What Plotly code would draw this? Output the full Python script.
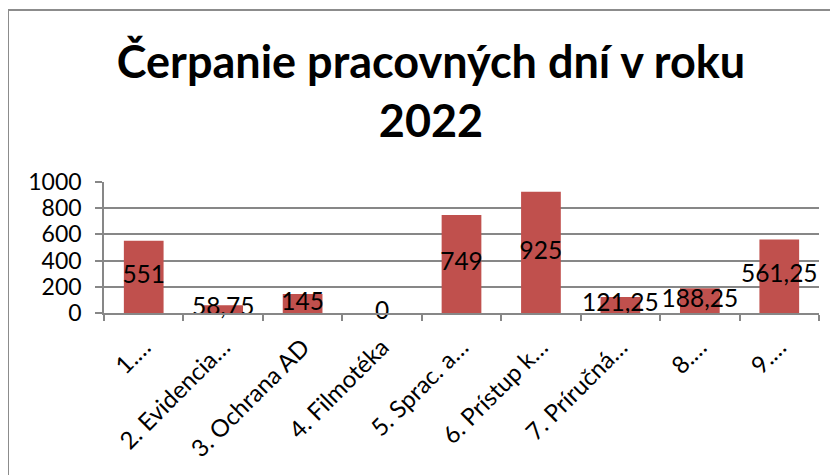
import plotly.graph_objects as go

categories = ["1.…", "2. Evidencia…", "3. Ochrana AD", "4. Filmotéka", "5. Sprac. a…",
              "6. Prístup k…", "7. Príručná…", "8.…", "9.…"]
values = [551, 58.75, 145, 0, 749, 925, 121.25, 188.25, 561.25]
labels = ["551", "58,75", "145", "0", "749", "925", "121,25", "188,25", "561,25"]
y_ticks = [0, 200, 400, 600, 800, 1000]
title_text = "Čerpanie pracovných dní v roku<br>2022"

OFF = 8  # page body margin
W, H = 838 - OFF, 475 - OFF
# desired plot area in page pixels: x 104..819, y 182..313
L, R, T, B = 104 - OFF, 838 - 819, 182 - OFF, 475 - 313
GRID = "#878787"
FONT = "Lato"

fig = go.Figure()
fig.add_trace(go.Bar(x=categories, y=values, marker_color="#C0504D",
                     marker_line_width=0, hoverinfo="skip"))
fig.add_trace(go.Scatter(x=categories, y=[v / 2 for v in values], mode="text",
                         text=labels, textposition="middle center",
                         textfont=dict(family=FONT, size=24.5, color="black"),
                         cliponaxis=False, hoverinfo="skip"))

pw = W - L - R
ph = H - T - B
# chart border (left and top edges visible), page pixels x=8, y=10
bx = (8 - OFF - L) / pw
by = (H - B - (10 - OFF)) / ph
fig.add_shape(type="line", xref="paper", yref="paper", x0=bx, x1=bx, y0=by, y1=-5,
              line=dict(color="#8C8C8C", width=2))
fig.add_shape(type="line", xref="paper", yref="paper", x0=bx, x1=5, y0=by, y1=by,
              line=dict(color="#8C8C8C", width=2))

fig.update_layout(
    width=W, height=H,
    margin=dict(l=L, r=R, t=T, b=B, autoexpand=False),
    paper_bgcolor="white", plot_bgcolor="white",
    showlegend=False, bargap=0.5,
    title=dict(text="<b>" + title_text + "</b>", x=(431 - OFF) / W, xanchor="center",
               y=1 - (78 - OFF) / H, yanchor="middle",
               font=dict(family=FONT, size=45, color="black")),
    font=dict(family=FONT, color="black"),
)
fig.update_yaxes(range=[0, 1000], tickvals=y_ticks, showgrid=True, gridcolor=GRID,
                 gridwidth=1.5, showline=True, linecolor=GRID, linewidth=1.5,
                 ticks="outside", ticklen=7, tickcolor=GRID, tickwidth=1.5,
                 ticklabelstandoff=9,
                 tickfont=dict(family=FONT, size=23, color="black"), zeroline=False)
fig.update_xaxes(type="category", showline=True, linecolor=GRID, linewidth=1.5,
                 ticks="outside", tickson="boundaries", ticklen=6, tickcolor=GRID,
                 tickwidth=1.5, tickangle=-45, ticklabelstandoff=9,
                 tickfont=dict(family=FONT, size=24, color="black"))

fig.write_html("out.html")
